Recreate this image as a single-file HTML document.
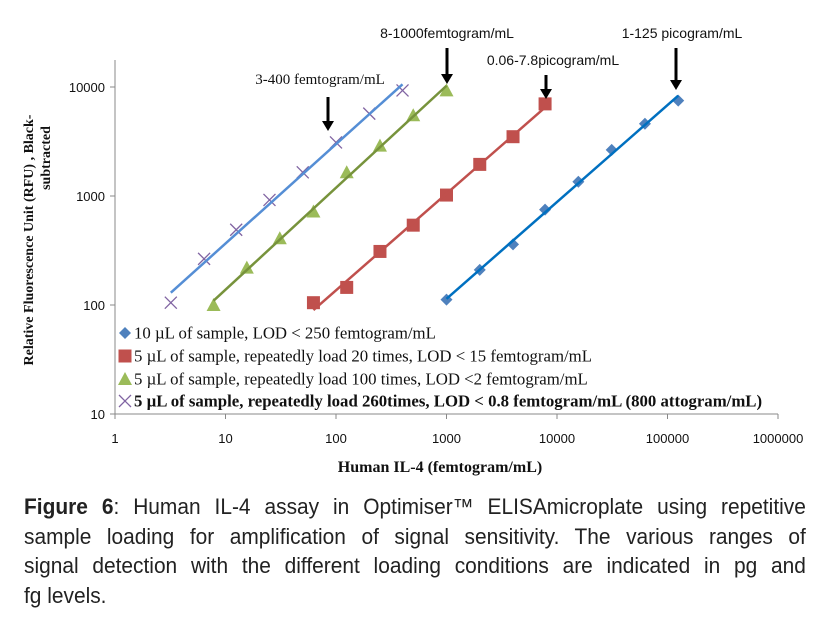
<!DOCTYPE html>
<html><head><meta charset="utf-8"><style>
body{margin:0;background:#fff;width:830px;height:622px;overflow:hidden;position:relative}
svg{position:absolute;left:0;top:0}
.cap{position:absolute;left:24px;top:492px;width:823px;font-family:"Liberation Sans",sans-serif;font-size:22px;line-height:29.5px;color:#222;transform:scaleX(0.95);transform-origin:0 0}
.cap div{text-align:justify;text-align-last:justify;white-space:nowrap}
.cap div.last{text-align-last:left}
</style></head><body>
<svg id="chart" width="830" height="490"></svg>
<div class="cap"><div><b>Figure 6</b>: Human IL-4 assay in Optimiser™ ELISAmicroplate using repetitive</div><div>sample loading for amplification of signal sensitivity. The various ranges of</div><div>signal detection with the different loading conditions are indicated in pg and</div><div class="last">fg levels.</div></div>
<script>
const xTicks=[1,10,100,1000,10000,100000,1000000];
const yTicks=[10,100,1000,10000];
const xDiamond=[1000,2000,4000,7800,15600,31250,62500,125000];
const yDiamond=[112,210,360,750,1350,2650,4600,7500];
const xSquare=[62.5,125,250,500,1000,2000,4000,7800];
const ySquare=[105,145,310,540,1020,1950,3500,7000];
const xTri=[7.8,15.6,31,62.5,125,250,500,1000];
const yTri=[100,220,410,720,1650,2900,5500,9300];
const xCross=[3.2,6.4,12.5,25,50,100,200,400];
const yCross=[105,265,490,920,1650,3100,5700,9300];
const legendLabels=["10 µL of sample, LOD < 250 femtogram/mL","5 µL of sample, repeatedly load 20 times, LOD < 15 femtogram/mL","5 µL of sample, repeatedly load 100 times, LOD <2 femtogram/mL","5 µL of sample, repeatedly load 260times, LOD < 0.8 femtogram/mL (800 attogram/mL)"];

const NS="http://www.w3.org/2000/svg";
const svg=document.getElementById('chart');
const X0=115,XD=110.5,Y10=414,YD=109;
const sx=v=>X0+Math.log10(v)*XD;
const sy=v=>Y10-(Math.log10(v)-1)*YD;
function mk(tag,attrs,parent){const e=document.createElementNS(NS,tag);for(const k in attrs)e.setAttribute(k,attrs[k]);(parent||svg).appendChild(e);return e;}
function txt(s,attrs){const e=mk('text',attrs);e.textContent=s;return e;}

let a=mk('line',{x1:X0,y1:60,x2:X0,y2:Y10,stroke:'#888','stroke-width':1});


a=mk('line',{x1:X0,y1:Y10,x2:sx(1000000),y2:Y10,stroke:'#888','stroke-width':1});


xTicks.forEach(t=>{
  mk('line',{x1:sx(t),y1:Y10,x2:sx(t),y2:Y10+5,stroke:'#888'});
  const e=txt(String(t),{x:sx(t),y:Y10+29,'text-anchor':'middle','font-family':'Liberation Sans,sans-serif','font-size':13,fill:'#111'});
  
  
});
yTicks.forEach(t=>{
  mk('line',{x1:X0-5,y1:sy(t),x2:X0,y2:sy(t),stroke:'#888'});
  const e=txt(String(t),{x:X0-10,y:sy(t)+5,'text-anchor':'end','font-family':'Liberation Sans,sans-serif','font-size':13,fill:'#111'});
  
  
});

function fitLine(xs,ys,color,name){
  const lx=xs.map(Math.log10),ly=ys.map(Math.log10),n=lx.length;
  const mx=lx.reduce((p,c)=>p+c)/n,my=ly.reduce((p,c)=>p+c)/n;
  let num=0,den=0;for(let i=0;i<n;i++){num+=(lx[i]-mx)*(ly[i]-my);den+=(lx[i]-mx)**2;}
  const b=num/den,c=my-b*mx;
  const x1=lx[0],x2=lx[n-1];
  const e=mk('line',{x1:sx(10**x1),y1:sy(10**(c+b*x1)),x2:sx(10**x2),y2:sy(10**(c+b*x2)),stroke:color,'stroke-width':2.5});
  
  
}
function marker(type,x,y,color){
  let e;
  if(type==='d')e=mk('path',{d:`M${x},${y-6}L${x+6},${y}L${x},${y+6}L${x-6},${y}Z`,fill:color});
  else if(type==='s')e=mk('rect',{x:x-6.5,y:y-6.5,width:13,height:13,fill:color});
  else if(type==='t')e=mk('path',{d:`M${x},${y-7}L${x+7},${y+6}L${x-7},${y+6}Z`,fill:color});
  else e=mk('path',{d:`M${x-6},${y-6}L${x+6},${y+6}M${x+6},${y-6}L${x-6},${y+6}`,stroke:color,'stroke-width':1.3,fill:'none'});
  return e;
}
const series=[
  {xs:xDiamond,ys:yDiamond,t:'d',mc:'#4f81bd',lc:'#0070c0',n:'diamond'},
  {xs:xSquare,ys:ySquare,t:'s',mc:'#c0504d',lc:'#c0504d',n:'square'},
  {xs:xTri,ys:yTri,t:'t',mc:'#9bbb59',lc:'#77933c',n:'triangle'},
  {xs:xCross,ys:yCross,t:'x',mc:'#8064a2',lc:'#558ed5',n:'cross'}];
series.forEach(s=>{
  s.xs.forEach((v,i)=>{const m=marker(s.t,sx(v),sy(s.ys[i]),s.mc);
    
    });
  fitLine(s.xs,s.ys,s.lc,s.n+'-fit-line');
});

const LY=[333,356,379,401];
series.forEach((s,i)=>{
  marker(s.t,125,LY[i],s.mc);
  const e=txt(legendLabels[i],{x:134,y:LY[i]+5.5,'font-family':'Liberation Serif,serif','font-size':16.8,fill:'#111','font-weight':i===3?'bold':'normal'});
  
  
});

function arrow(x,y1,y2){mk('line',{x1:x,y1:y1,x2:x,y2:y2-8,stroke:'#000','stroke-width':3});mk('path',{d:`M${x-6},${y2-10}L${x+6},${y2-10}L${x},${y2}Z`,fill:'#000'});}
let an=txt('3-400 femtogram/mL',{x:320,y:84,'text-anchor':'middle','font-family':'Liberation Serif,serif','font-size':15,fill:'#111'});


arrow(328,97,131);
an=txt('8-1000femtogram/mL',{x:447,y:38,'text-anchor':'middle','font-family':'Liberation Sans,sans-serif','font-size':14,fill:'#111'});


arrow(447,48,84);
an=txt('0.06-7.8picogram/mL',{x:553,y:65,'text-anchor':'middle','font-family':'Liberation Sans,sans-serif','font-size':14,fill:'#111'});


arrow(546,75,99);
an=txt('1-125 picogram/mL',{x:682,y:38,'text-anchor':'middle','font-family':'Liberation Sans,sans-serif','font-size':14,fill:'#111'});


arrow(676,48,90);

let t=txt('Human IL-4 (femtogram/mL)',{x:440,y:472,'text-anchor':'middle','font-family':'Liberation Serif,serif','font-size':16,'font-weight':'bold',fill:'#111'});


t=txt('Relative Fluorescence Unit (RFU) , Black-',{x:0,y:0,'text-anchor':'middle','font-family':'Liberation Serif,serif','font-size':14,'font-weight':'bold',fill:'#111',transform:'translate(33,240) rotate(-90)'});


t=txt('subtracted',{x:0,y:0,'text-anchor':'middle','font-family':'Liberation Serif,serif','font-size':14,'font-weight':'bold',fill:'#111',transform:'translate(50,158) rotate(-90)'});


</script>
</body></html>
